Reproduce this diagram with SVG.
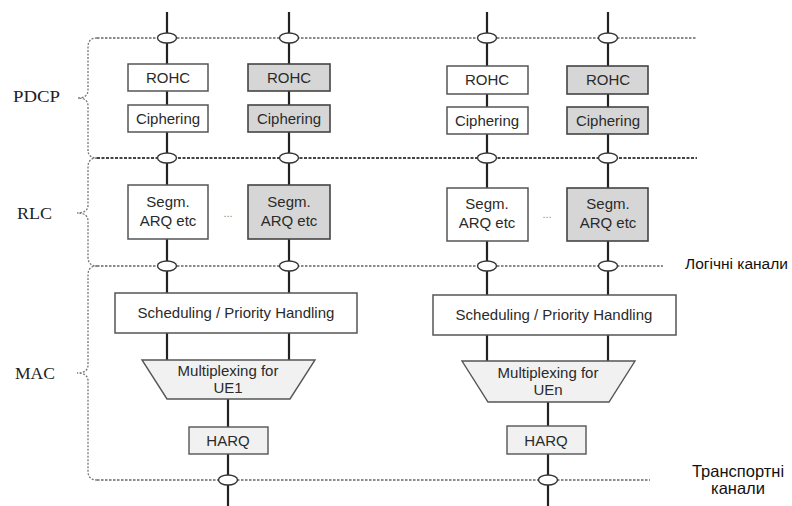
<svg xmlns="http://www.w3.org/2000/svg" width="792" height="506" viewBox="0 0 792 506">
  <style>
    .bg { fill: #ffffff; }
    .chan { stroke: #222; stroke-width: 2.2; fill: none; }
    .sap { fill: #ffffff; stroke: #333; stroke-width: 1.4; }
    .layer { stroke: #666; stroke-width: 1.3; fill: none; stroke-dasharray: 2.5 1.5; }
    .layer-bold { stroke: #444; stroke-width: 2; fill: none; stroke-dasharray: 3 1.5; }
    .brace { stroke: #777; stroke-width: 1.3; fill: none; stroke-dasharray: 2 1.5; }
    .box { fill: #ffffff; stroke: #555; stroke-width: 1.5; }
    .box-grey { fill: #d6d6d6; stroke: #444; stroke-width: 1.6; }
    .box-light { fill: #f1f1f1; stroke: #555; stroke-width: 1.4; }
    .t { font-family: "Liberation Sans", Arial, sans-serif; font-size: 15px; fill: #2a2a2a; text-anchor: middle; }
    .lbl { font-family: "Liberation Serif", "Times New Roman", serif; font-size: 17px; fill: #222; }
    .side { font-family: "Liberation Sans", Arial, sans-serif; font-size: 15.5px; fill: #111; }
    .side-tall { font-family: "Liberation Sans", Arial, sans-serif; font-size: 16.5px; fill: #111; text-anchor: middle; }
    .dots { font-family: "Liberation Sans", Arial, sans-serif; font-size: 11px; fill: #888; text-anchor: middle; }
  </style>
  <rect class="bg" x="0" y="0" width="792" height="506"/>

  <!-- layer boundaries and braces -->
  <g id="layers">
    <line class="layer" x1="97" y1="38" x2="697" y2="38"/>
    <line class="layer-bold" x1="97" y1="158" x2="697" y2="158"/>
    <line class="layer" x1="97" y1="266" x2="663" y2="266"/>
    <line class="layer" x1="97" y1="480" x2="650" y2="480"/>
    <path class="brace" d="M97,38 Q88,38 88,47 L88,90 Q88,98 78,98 Q88,98 88,106 L88,150 Q88,158 97,158"/>
    <path class="brace" d="M97,158 Q88,158 88,167 L88,205 Q88,213 77,213 Q88,213 88,221 L88,257 Q88,266 97,266"/>
    <path class="brace" d="M97,266 Q88,266 88,275 L88,365 Q88,373 77,373 Q88,373 88,381 L88,471 Q88,480 97,480"/>
  </g>

  <!-- connectors: radio bearers and transport channels -->
  <g id="connectors">
    <line class="chan" x1="167" y1="12" x2="167" y2="293"/>
    <line class="chan" x1="289" y1="12" x2="289" y2="293"/>
    <line class="chan" x1="487" y1="12" x2="487" y2="295"/>
    <line class="chan" x1="608" y1="12" x2="608" y2="295"/>
    <line class="chan" x1="167" y1="333" x2="167" y2="360"/>
    <line class="chan" x1="289" y1="333" x2="289" y2="360"/>
    <line class="chan" x1="487" y1="335" x2="487" y2="361"/>
    <line class="chan" x1="608" y1="335" x2="608" y2="361"/>
    <line class="chan" x1="228" y1="399" x2="228" y2="506"/>
    <line class="chan" x1="548" y1="402" x2="548" y2="506"/>
  </g>

  <!-- service access points -->
  <g id="saps">
    <ellipse class="sap" cx="167" cy="38" rx="9.5" ry="5"/>
    <ellipse class="sap" cx="289" cy="38" rx="9.5" ry="5"/>
    <ellipse class="sap" cx="487" cy="38" rx="9.5" ry="5"/>
    <ellipse class="sap" cx="608" cy="38" rx="9.5" ry="5"/>
    <ellipse class="sap" cx="167" cy="158" rx="9.5" ry="5"/>
    <ellipse class="sap" cx="289" cy="158" rx="9.5" ry="5"/>
    <ellipse class="sap" cx="487" cy="158" rx="9.5" ry="5"/>
    <ellipse class="sap" cx="608" cy="158" rx="9.5" ry="5"/>
    <ellipse class="sap" cx="167" cy="266" rx="9.5" ry="5"/>
    <ellipse class="sap" cx="289" cy="266" rx="9.5" ry="5"/>
    <ellipse class="sap" cx="487" cy="266" rx="9.5" ry="5"/>
    <ellipse class="sap" cx="608" cy="266" rx="9.5" ry="5"/>
    <ellipse class="sap" cx="228" cy="480" rx="9.5" ry="5"/>
    <ellipse class="sap" cx="548" cy="480" rx="9.5" ry="5"/>
  </g>

  <!-- UE1 stack -->
  <g id="rohc-1a"><rect class="box" x="128" y="64" width="80" height="27"/><text class="t" x="168" y="83">ROHC</text></g>
  <g id="rohc-1b"><rect class="box-grey" x="248" y="64" width="82" height="27"/><text class="t" x="289" y="83">ROHC</text></g>
  <g id="ciph-1a"><rect class="box" x="128" y="105" width="80" height="27"/><text class="t" x="168" y="124">Ciphering</text></g>
  <g id="ciph-1b"><rect class="box-grey" x="248" y="105" width="82" height="27"/><text class="t" x="289" y="124">Ciphering</text></g>
  <g id="rlc-1a"><rect class="box" x="128" y="185" width="80" height="54"/><text class="t" x="168" y="207">Segm.</text><text class="t" x="168" y="226">ARQ etc</text></g>
  <text class="dots" x="228" y="217">...</text>
  <g id="rlc-1b"><rect class="box-grey" x="248" y="185" width="82" height="54"/><text class="t" x="289" y="207">Segm.</text><text class="t" x="289" y="226">ARQ etc</text></g>
  <g id="sched-1"><rect class="box" x="115" y="293" width="242" height="40"/><text class="t" x="236" y="318">Scheduling / Priority Handling</text></g>
  <g id="mux-1"><polygon class="box-light" points="142,360 315,360 290,399 167,399"/><text class="t" x="228" y="376">Multiplexing for</text><text class="t" x="228" y="393">UE1</text></g>
  <g id="harq-1"><rect class="box-light" x="189" y="427" width="79" height="27"/><text class="t" x="228" y="446">HARQ</text></g>

  <!-- UEn stack -->
  <g id="rohc-na"><rect class="box" x="447" y="66" width="81" height="28"/><text class="t" x="487" y="85">ROHC</text></g>
  <g id="rohc-nb"><rect class="box-grey" x="567" y="66" width="81" height="28"/><text class="t" x="608" y="85">ROHC</text></g>
  <g id="ciph-na"><rect class="box" x="447" y="107" width="81" height="27"/><text class="t" x="487" y="126">Ciphering</text></g>
  <g id="ciph-nb"><rect class="box-grey" x="567" y="107" width="81" height="27"/><text class="t" x="608" y="126">Ciphering</text></g>
  <g id="rlc-na"><rect class="box" x="447" y="188" width="81" height="53"/><text class="t" x="487" y="209">Segm.</text><text class="t" x="487" y="228">ARQ etc</text></g>
  <text class="dots" x="547" y="218">...</text>
  <g id="rlc-nb"><rect class="box-grey" x="567" y="188" width="81" height="53"/><text class="t" x="608" y="209">Segm.</text><text class="t" x="608" y="228">ARQ etc</text></g>
  <g id="sched-n"><rect class="box" x="433" y="295" width="243" height="40"/><text class="t" x="554" y="320">Scheduling / Priority Handling</text></g>
  <g id="mux-n"><polygon class="box-light" points="462,361 635,361 609,402 488,402"/><text class="t" x="548" y="378">Multiplexing for</text><text class="t" x="548" y="395">UEn</text></g>
  <g id="harq-n"><rect class="box-light" x="507" y="426" width="79" height="28"/><text class="t" x="546" y="446">HARQ</text></g>

  <!-- layer names -->
  <g id="labels">
    <text class="lbl" x="13" y="102" textLength="47" lengthAdjust="spacingAndGlyphs">PDCP</text>
    <text class="lbl" x="17" y="219" textLength="35" lengthAdjust="spacingAndGlyphs">RLC</text>
    <text class="lbl" x="15" y="379" textLength="40" lengthAdjust="spacingAndGlyphs">MAC</text>
    <text class="side" x="685" y="269">Логічні канали</text>
    <text class="side-tall" x="738" y="477">Транспортні</text>
    <text class="side-tall" x="738" y="494">канали</text>
  </g>
</svg>
